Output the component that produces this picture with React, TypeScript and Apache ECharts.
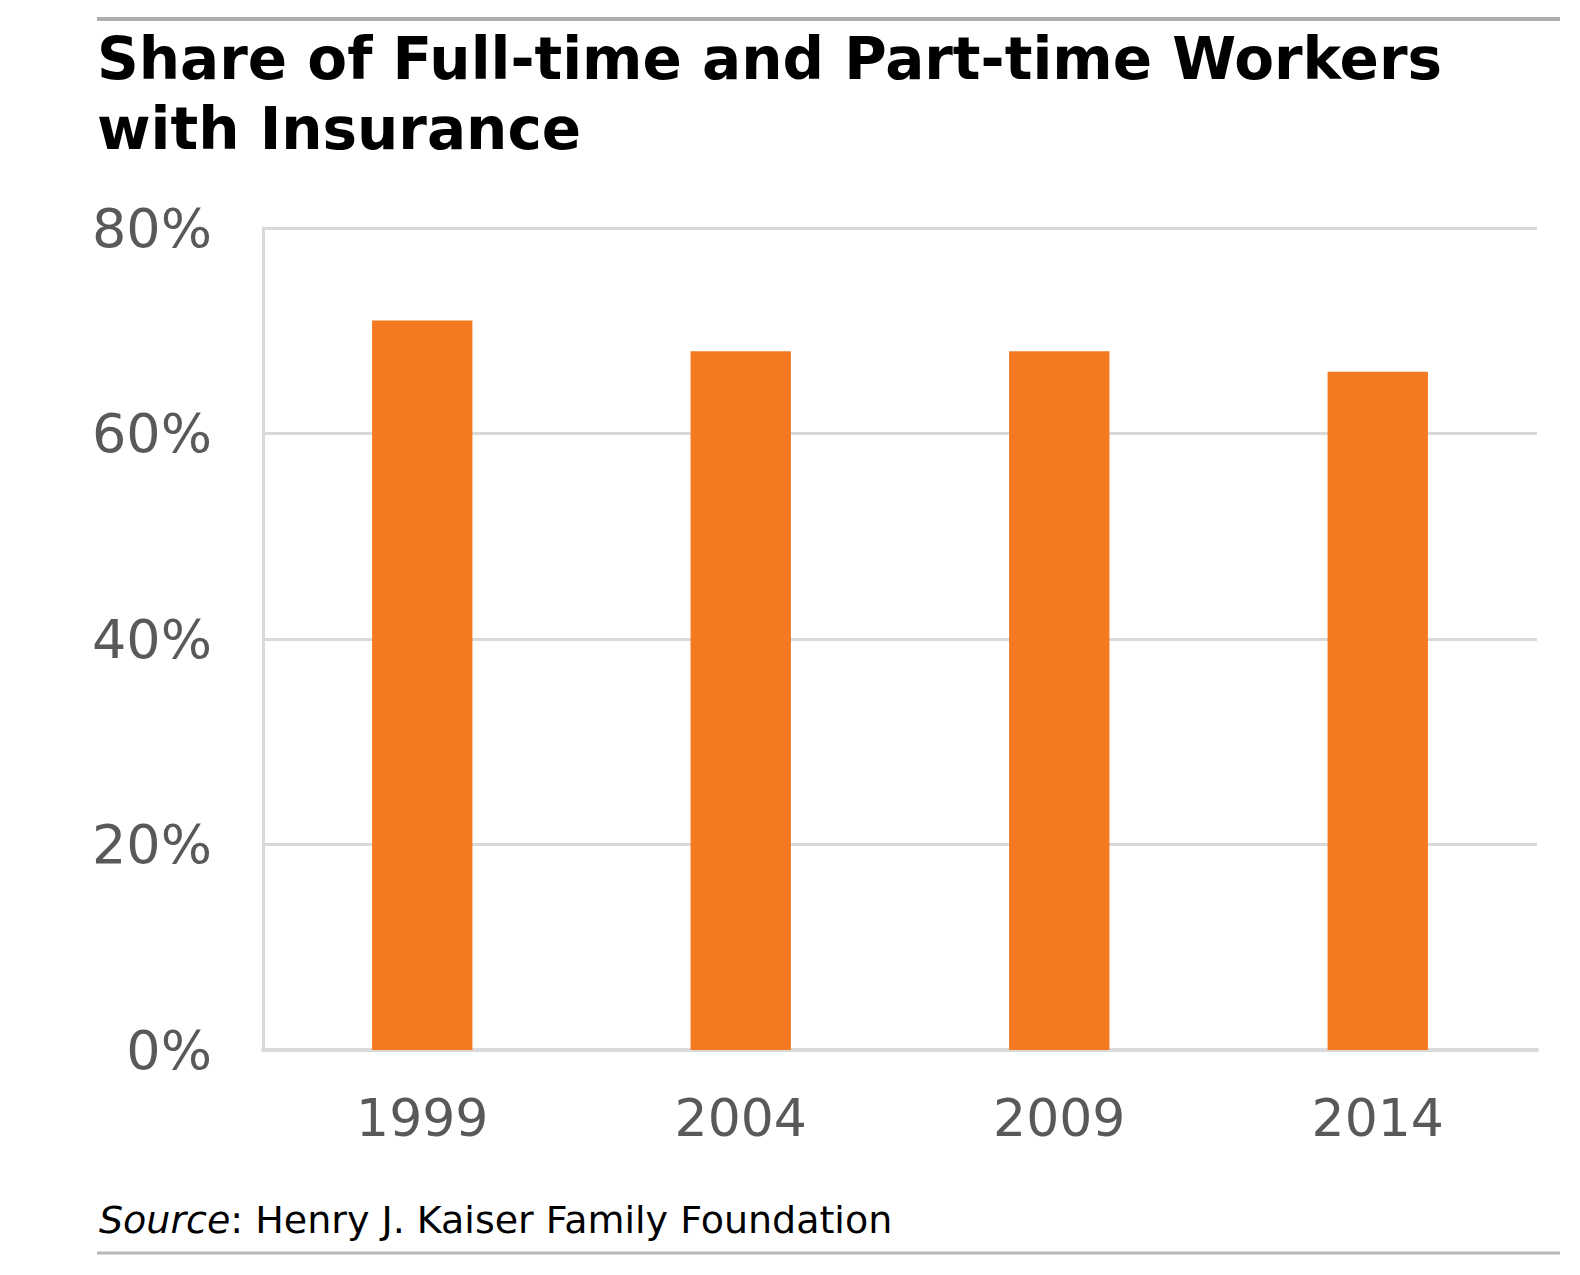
import React, { useEffect, useRef } from 'react';
import * as echarts from 'echarts';

const years = ['1999', '2004', '2009', '2014'];
const insuredShare = [71, 68, 68, 66];
const yTicks = { min: 0, max: 80, step: 20 };

const titleText = 'Share of Full-time and Part-time Workers\nwith Insurance';
const sourceText = '{i|Source}: Henry J. Kaiser Family Foundation';

const FONT = 'DejaVu Sans, Verdana, sans-serif';

const App: React.FC = () => {
  const chartRef = useRef<HTMLDivElement>(null);

  useEffect(() => {
    if (!chartRef.current) return;
    const chart = echarts.init(chartRef.current, null, { renderer: 'svg' });

    const option = {
      animation: false,
      backgroundColor: '#ffffff',
      title: [
        {
          text: titleText,
          left: 92,
          top: 19,
          textStyle: {
            fontFamily: FONT,
            fontSize: 58,
            fontWeight: 'bold',
            lineHeight: 70,
            color: '#000000'
          }
        },
        {
          text: sourceText,
          left: 94,
          top: 1196,
          textStyle: {
            fontFamily: FONT,
            fontSize: 38,
            fontWeight: 'normal',
            lineHeight: 38,
            color: '#000000',
            rich: {
              i: { fontFamily: FONT, fontSize: 38, fontStyle: 'italic', color: '#000000' }
            }
          }
        }
      ],
      graphic: [
        {
          type: 'line',
          shape: { x1: 97, y1: 19, x2: 1560, y2: 19 },
          style: { stroke: '#acacb1', lineWidth: 4 }
        },
        {
          type: 'line',
          shape: { x1: 97, y1: 1253, x2: 1560, y2: 1253 },
          style: { stroke: '#b8b8bc', lineWidth: 3 }
        }
      ],
      grid: { left: 263, right: 43, top: 228, bottom: 225 },
      xAxis: {
        type: 'category',
        data: years,
        axisLine: { show: true, lineStyle: { color: '#d9d9d9', width: 4 } },
        axisTick: { show: false },
        axisLabel: {
          fontFamily: FONT,
          fontSize: 52,
          lineHeight: 52,
          color: '#595959',
          margin: 42
        }
      },
      yAxis: {
        type: 'value',
        min: yTicks.min,
        max: yTicks.max,
        interval: yTicks.step,
        axisLine: { show: true, lineStyle: { color: '#d9d9d9', width: 3 } },
        axisTick: { show: false },
        splitLine: { show: true, lineStyle: { color: '#d9d9d9', width: 3 } },
        axisLabel: {
          formatter: '{value}%',
          fontFamily: FONT,
          fontSize: 54,
          color: '#595959',
          margin: 51
        }
      },
      series: [
        {
          type: 'bar',
          data: insuredShare,
          barWidth: '31.5%',
          itemStyle: { color: '#F37A21' }
        }
      ]
    };

    chart.setOption(option);

    return () => {
      chart.dispose();
    };
  }, []);

  return (
    <div
      ref={chartRef}
      style={{ position: 'absolute', left: 0, top: 0, width: 1580, height: 1275 }}
    />
  );
};

export default App;
